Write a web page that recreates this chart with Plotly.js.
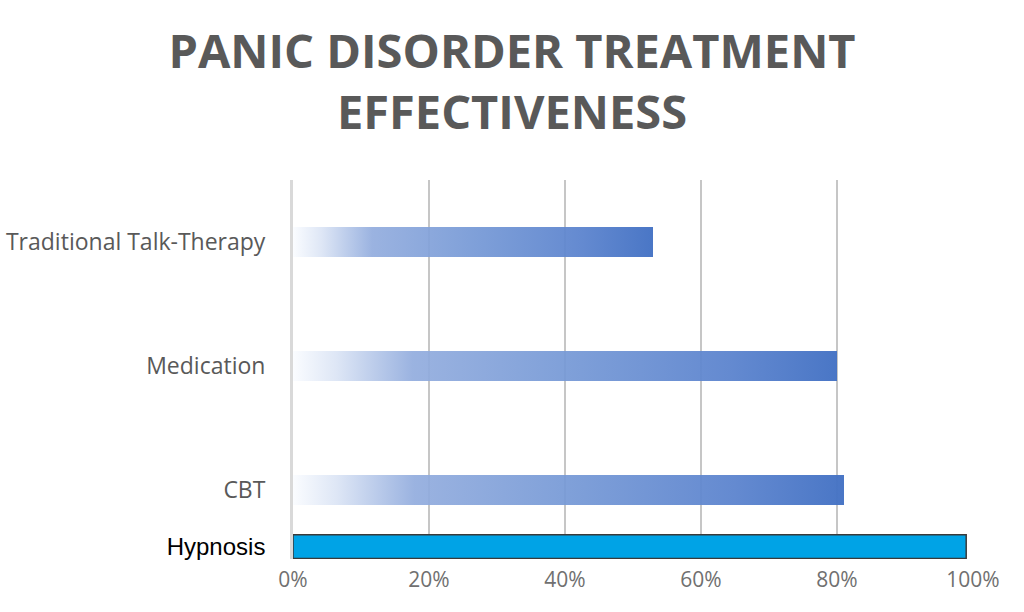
<!DOCTYPE html>
<html>
<head>
<meta charset="utf-8">
<script src="https://cdn.plot.ly/plotly-3.0.1.min.js"></script>
<style>
  html, body { margin: 0; padding: 0; background: #ffffff; }
  #chart { width: 1024px; height: 612px; }
</style>
</head>
<body>
<div id="chart"></div>
<script>
// ---- data ----
const categories = ["Traditional Talk-Therapy", "Medication", "CBT"];
const effectiveness = [0.53, 0.80, 0.81];
const categoryPos = [3, 2, 1];
const hypnosisLabel = "Hypnosis";
const hypnosisValue = [0.99];
const hypnosisPos = [0.54];
const xTickVals = [0, 0.2, 0.4, 0.6, 0.8, 1.0];
const xTickText = ["0%", "20%", "40%", "60%", "80%", "100%"];
const titleText = "PANIC DISORDER TREATMENT<br>EFFECTIVENESS";

const gradTrace = {
  type: "bar",
  orientation: "h",
  x: effectiveness,
  y: categoryPos,
  width: 0.24,
  marker: { color: "#4472C4", line: { width: 0 } },
  hoverinfo: "x+y",
  name: "gradient"
};
const hypTrace = {
  type: "bar",
  orientation: "h",
  x: hypnosisValue,
  y: hypnosisPos,
  width: 0.19,
  marker: { color: "#00A3E6", line: { color: "#3A3A3A", width: 1.5 } },
  name: "hypnosis"
};

const layout = {
  width: 1024,
  height: 612,
  paper_bgcolor: "#ffffff",
  plot_bgcolor: "#ffffff",
  showlegend: false,
  bargap: 0,
  margin: { l: 293, r: 51, t: 180, b: 53 },
  title: {
    text: titleText,
    font: { family: "Open Sans, sans-serif", size: 47, color: "#595959", weight: "bold" },
    x: 0.5,
    xanchor: "center",
    xref: "container",
    yref: "container",
    y: 1 - 68 / 612,
    yanchor: "top"
  },
  xaxis: {
    range: [0, 1],
    tickvals: xTickVals,
    ticktext: xTickText,
    showgrid: true,
    gridcolor: "#C6C6C6",
    gridwidth: 1.5,
    zeroline: false,
    showline: false,
    ticks: "",
    tickfont: { family: "Open Sans, sans-serif", size: 21, color: "#707070" },
    ticklabelstandoff: 6
  },
  yaxis: {
    range: [0.44, 3.5],
    tickvals: categoryPos.concat(hypnosisPos),
    ticktext: categories.concat(['<span style="color:#000000;font-family:Liberation Sans, Arial, sans-serif;font-size:24px">' + hypnosisLabel + '</span>']),
    showgrid: false,
    zeroline: false,
    showline: true,
    linecolor: "#D9D9D9",
    linewidth: 3,
    ticks: "",
    tickfont: { family: "Open Sans, sans-serif", size: 23, color: "#595959" },
    ticklabelstandoff: 20
  }
};

Plotly.newPlot("chart", [gradTrace, hypTrace], layout, { displayModeBar: false, staticPlot: true }).then(function (gd) {
  const svgNS = "http://www.w3.org/2000/svg";
  const svg = gd.querySelector("svg.main-svg");
  let defs = svg.querySelector("defs");
  if (!defs) { defs = document.createElementNS(svgNS, "defs"); svg.insertBefore(defs, svg.firstChild); }
  const grad = document.createElementNS(svgNS, "linearGradient");
  grad.setAttribute("id", "barGrad");
  grad.setAttribute("x1", "0"); grad.setAttribute("y1", "0");
  grad.setAttribute("x2", "1"); grad.setAttribute("y2", "0");
  const stops = [
    [0.00, "#FAFCFF", 0.95],
    [0.08, "#DCE5F5", 0.95],
    [0.22, "#93ADDE", 0.93],
    [0.50, "#7699D6", 0.93],
    [0.80, "#5C84CE", 0.95],
    [1.00, "#4472C4", 0.97]
  ];
  stops.forEach(function (s) {
    const st = document.createElementNS(svgNS, "stop");
    st.setAttribute("offset", s[0]);
    st.setAttribute("stop-color", s[1]);
    st.setAttribute("stop-opacity", s[2]);
    grad.appendChild(st);
  });
  defs.appendChild(grad);
  const traces = gd.querySelectorAll("g.trace.bars");
  if (traces.length) {
    traces[0].querySelectorAll("path").forEach(function (p) {
      p.style.fill = "url(#barGrad)";
      p.style.fillOpacity = 1;
    });
  }
});
</script>
</body>
</html>
